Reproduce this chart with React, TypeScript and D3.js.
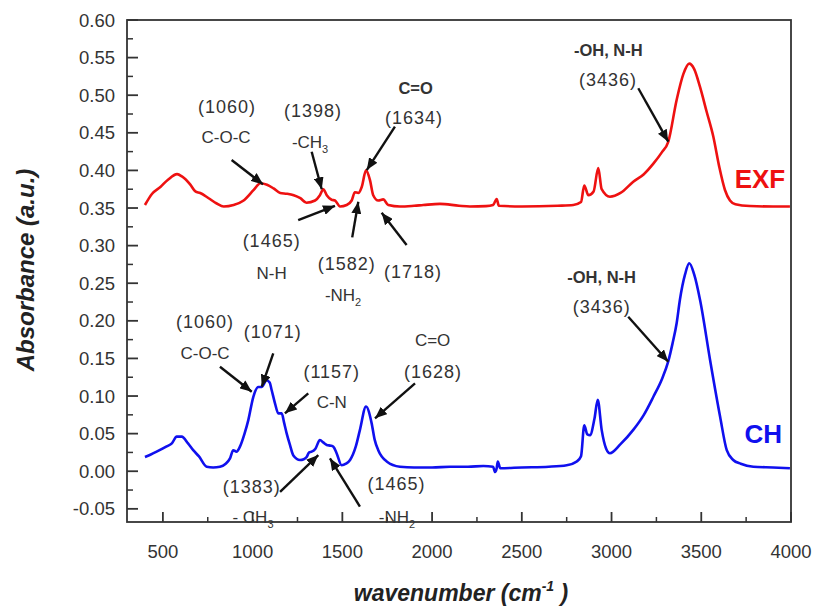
import React from "react";
import * as d3 from "d3";

// EXF spectrum: [wavenumber, absorbance]
const exfWave = [400,440,486,530,579,606,653,681,708,755,800,839,894,950,1006,1043,1080,1117,1154,1191,1229,1266,1300,1348,1375,1394,1413,1440,1459,1487,1524,1552,1570,1589,1608,1632,1654,1672,1700,1728,1756,1821,1900,1951,2044,2150,2211,2300,2340,2360,2372,2500,2700,2787,2830,2848,2871,2900,2926,2945,2991,3050,3121,3180,3233,3280,3316,3363,3400,3433,3460,3493,3530,3567,3600,3632,3660,3690,3771,3900,3994];
const exfAbs = [0.354,0.369,0.378,0.388,0.395,0.392,0.381,0.372,0.370,0.363,0.356,0.352,0.354,0.360,0.374,0.383,0.381,0.376,0.370,0.369,0.367,0.363,0.357,0.360,0.367,0.375,0.367,0.361,0.360,0.352,0.354,0.360,0.371,0.370,0.378,0.400,0.387,0.367,0.360,0.3615,0.354,0.352,0.353,0.354,0.3555,0.353,0.352,0.3525,0.354,0.362,0.353,0.352,0.353,0.354,0.358,0.380,0.367,0.372,0.403,0.375,0.365,0.370,0.385,0.395,0.409,0.424,0.438,0.494,0.528,0.542,0.535,0.511,0.478,0.445,0.405,0.374,0.360,0.355,0.3526,0.352,0.352];

// CH spectrum
const chWave = [400,430,465,521,550,577,605,640,669,700,744,780,818,850,874,892,910,930,955,976,1004,1032,1050,1078,1095,1106,1125,1143,1162,1175,1190,1208,1227,1264,1285,1301,1315,1329,1350,1375,1395,1413,1435,1450,1468,1496,1520,1543,1575,1598,1632,1663,1680,1700,1747,1821,1900,2000,2100,2200,2286,2340,2351,2360,2366,2380,2500,2650,2750,2806,2830,2848,2865,2880,2905,2923,2945,2970,2991,3050,3121,3180,3233,3280,3316,3340,3363,3381,3410,3433,3460,3493,3549,3605,3642,3678,3720,3790,3900,3994];
const chAbs = [0.019,0.022,0.026,0.033,0.037,0.046,0.046,0.037,0.028,0.020,0.006,0.005,0.006,0.010,0.017,0.028,0.026,0.033,0.050,0.068,0.099,0.112,0.112,0.121,0.118,0.108,0.090,0.077,0.077,0.065,0.050,0.035,0.021,0.015,0.016,0.019,0.025,0.026,0.030,0.0415,0.038,0.035,0.034,0.0326,0.024,0.008,0.010,0.015,0.033,0.055,0.086,0.064,0.042,0.028,0.013,0.006,0.005,0.005,0.006,0.006,0.007,0.006,-0.001,0.004,0.013,0.004,0.005,0.006,0.008,0.013,0.020,0.061,0.049,0.048,0.070,0.095,0.055,0.030,0.024,0.036,0.055,0.075,0.099,0.122,0.146,0.170,0.197,0.228,0.262,0.2765,0.262,0.228,0.148,0.0725,0.028,0.015,0.010,0.006,0.005,0.004];

const xTicks = [500,1000,1500,2000,2500,3000,3500,4000];
const yTicks = [-0.05,0,0.05,0.10,0.15,0.20,0.25,0.30,0.35,0.40,0.45,0.50,0.55,0.60];

// arrows: [tailWave, tailAbs, tipWave, tipAbs]
const arrows = [
  [883,0.4138,1058,0.3815],
  [1329,0.4249,1385,0.3749],
  [1793,0.4581,1636,0.4005],
  [1254,0.334,1459,0.353],
  [1555,0.311,1589,0.3584],
  [1858,0.3008,1719,0.3438],
  [3149,0.5092,3316,0.4382],
  [818,0.139,995,0.1057],
  [1115,0.1568,1051,0.1124],
  [1310,0.1036,1180,0.077],
  [1905,0.1169,1682,0.0703],
  [1153,-0.0273,1366,0.0215],
  [1598,-0.0472,1431,0.0172],
  [3093,0.2055,3316,0.1456],
];

// labels: [text, subscript, wave, abs, kind]
const labels: [string, string, number, number, string][] = [
  ["(1060)","",857,0.4856,"num"],
  ["C-O-C","",852,0.4444,"txt"],
  ["(1398)","",1336,0.479,"num"],
  ["-CH","3",1320,0.4378,"txt"],
  ["C=O","",1908,0.5096,"bold"],
  ["(1634)","",1899,0.4697,"num"],
  ["(1465)","",1106,0.3074,"num"],
  ["N-H","",1106,0.2636,"txt"],
  ["(1582)","",1524,0.2765,"num"],
  ["-NH","2",1504,0.2343,"txt"],
  ["(1718)","",1894,0.2653,"num"],
  ["-OH, N-H","",2982,0.5601,"bold"],
  ["(3436)","",2980,0.5202,"num"],
  ["(1060)","",735,0.1988,"num"],
  ["C-O-C","",735,0.1568,"txt"],
  ["(1071)","",1112,0.1855,"num"],
  ["(1157)","",1441,0.1323,"num"],
  ["C-N","",1441,0.0924,"txt"],
  ["C=O","",2003,0.1745,"txt"],
  ["(1628)","",2005,0.1323,"num"],
  ["(1383)","",995,-0.0206,"num"],
  ["- CH","3",1002,-0.0605,"txt"],
  ["(1465)","",1802,-0.0161,"num"],
  ["-NH","2",1804,-0.0605,"txt"],
  ["-OH, N-H","",2945,0.2586,"bold"],
  ["(3436)","",2945,0.2187,"num"],
];

const seriesLabels: [string, number, number, string][] = [
  ["EXF", 3827, 0.3895, "#ee1111"],
  ["CH", 3845, 0.0504, "#1010ee"],
];

export default function App() {
  const left = 127, right = 791, top = 20, bottom = 522;
  const x = d3.scaleLinear().domain([300, 4000]).range([left, right]);
  const y = d3.scaleLinear().domain([-0.0675, 0.6]).range([bottom, top]);
  const line = d3.line<[number, number]>().x(d => x(d[0])).y(d => y(d[1])).curve(d3.curveMonotoneX);
  const exf = exfWave.map((w, i) => [w, exfAbs[i]] as [number, number]);
  const ch = chWave.map((w, i) => [w, chAbs[i]] as [number, number]);
  const xMinor = d3.range(750, 4000, 500);
  const yMinor = d3.range(-0.025, 0.6, 0.05);
  const font = "'Liberation Sans', Arial, sans-serif";
  const axisCol = "#333";

  return (
    <svg width={814} height={610} style={{ position: "absolute", left: 0, top: 0, background: "#fff" }} fontFamily={font}>
      <defs>
        <marker id="ah" viewBox="0 0 12 10" refX="12" refY="5" markerWidth="12" markerHeight="10" markerUnits="userSpaceOnUse" orient="auto">
          <path d="M0,0 L12,5 L0,10 Z" fill="#111" />
        </marker>
      </defs>
      <rect x={0} y={0} width={814} height={610} fill="#fff" />
      {/* series */}
      <path d={line(exf) || ""} fill="none" stroke="#ee1111" strokeWidth={2.6} strokeLinejoin="round" />
      <path d={line(ch) || ""} fill="none" stroke="#1010ee" strokeWidth={2.6} strokeLinejoin="round" />
      {/* frame */}
      <rect x={left} y={top} width={right - left} height={bottom - top} fill="none" stroke={axisCol} strokeWidth={1.8} />
      {/* x ticks */}
      {xTicks.map(t => (
        <g key={"xt" + t}>
          <line x1={x(t)} x2={x(t)} y1={bottom} y2={bottom - 10} stroke={axisCol} strokeWidth={1.8} />
          <text x={x(t)} y={558} textAnchor="middle" fontSize={18.5} fill="#333">{t}</text>
        </g>
      ))}
      {xMinor.map(t => (
        <line key={"xm" + t} x1={x(t)} x2={x(t)} y1={bottom} y2={bottom - 5} stroke={axisCol} strokeWidth={1.5} />
      ))}
      {/* y ticks */}
      {yTicks.map(t => (
        <g key={"yt" + t}>
          <line x1={left} x2={left + 11} y1={y(t)} y2={y(t)} stroke={axisCol} strokeWidth={1.8} />
          <text x={115} y={y(t) + 6.5} textAnchor="end" fontSize={18.5} fill="#333">{t.toFixed(2)}</text>
        </g>
      ))}
      {yMinor.map(t => (
        <line key={"ym" + t} x1={left} x2={left + 6} y1={y(t)} y2={y(t)} stroke={axisCol} strokeWidth={1.5} />
      ))}
      {/* axis titles */}
      <text transform="translate(34,270) rotate(-90)" textAnchor="middle" fontSize={24} fontWeight="bold" fontStyle="italic" fill="#222">Absorbance (a.u.)</text>
      <text x={461} y={601} textAnchor="middle" fontSize={23} fontWeight="bold" fontStyle="italic" fill="#222">
        wavenumber (cm<tspan fontSize={14} dy={-10}>-1</tspan><tspan dy={10}> )</tspan>
      </text>
      {/* arrows */}
      {arrows.map((a, i) => (
        <line key={"ar" + i} x1={x(a[0])} y1={y(a[1])} x2={x(a[2])} y2={y(a[3])} stroke="#111" strokeWidth={2.4} markerEnd="url(#ah)" />
      ))}
      {/* labels */}
      {labels.map((l, i) => {
        const fs = l[4] === "num" ? 18 : l[4] === "bold" ? 16.5 : 17;
        return (
          <text key={"lb" + i} x={x(l[2])} y={y(l[3]) + fs * 0.36} textAnchor="middle" fontSize={fs}
            fontWeight={l[4] === "bold" ? "bold" : "normal"} letterSpacing={l[4] === "num" ? 1 : 0} fill="#333">
            {l[0]}
            {l[1] ? <tspan fontSize={11} dy={5}>{l[1]}</tspan> : null}
          </text>
        );
      })}
      {seriesLabels.map(s => (
        <text key={s[0]} x={x(s[1])} y={y(s[2]) + 9.5} textAnchor="middle" fontSize={26} fontWeight="bold" fill={s[3]}>{s[0]}</text>
      ))}
    </svg>
  );
}
